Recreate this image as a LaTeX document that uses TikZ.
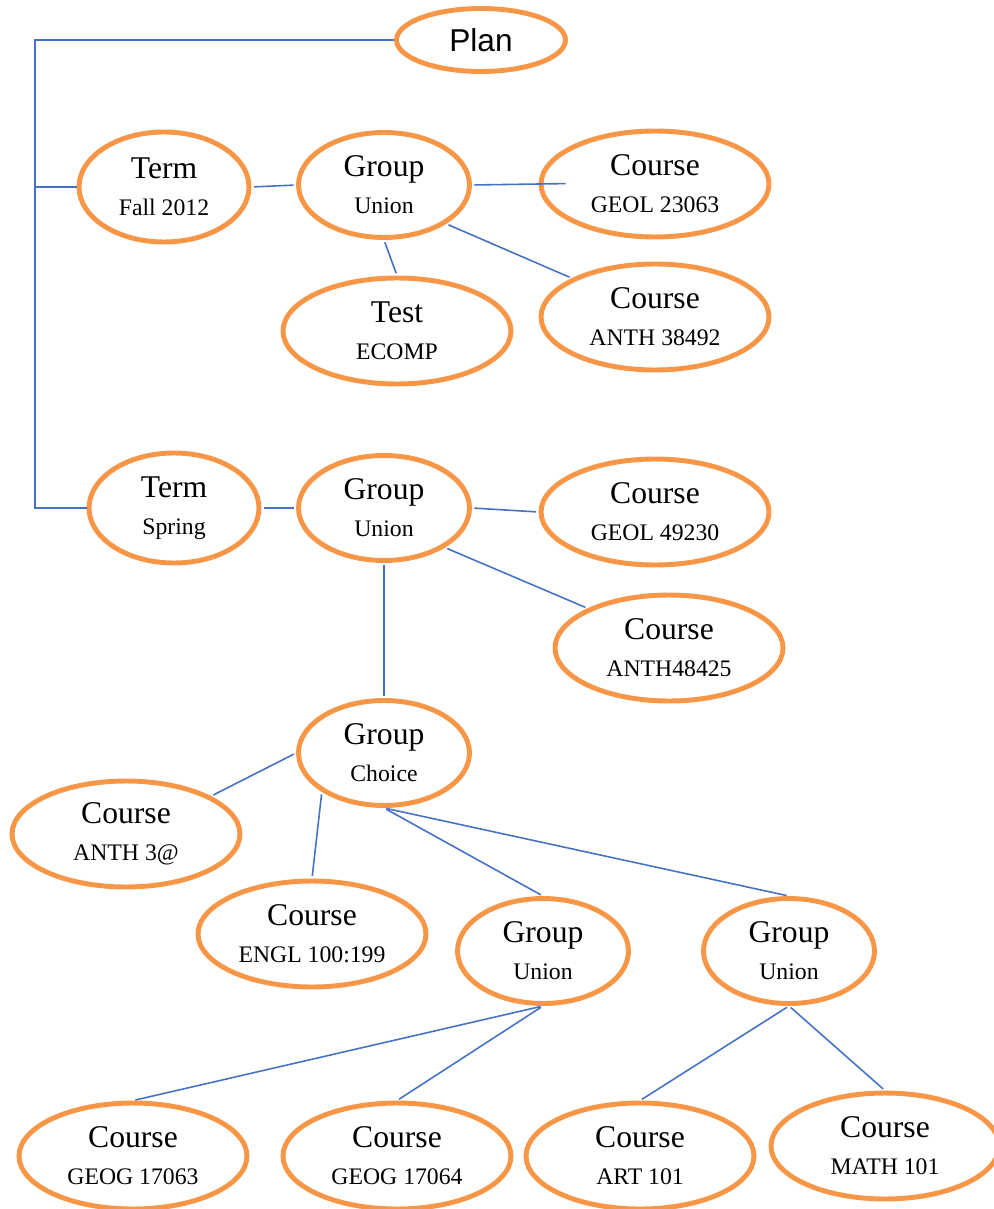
\documentclass[tikz,border=0pt]{standalone}
\usepackage{fontspec}
\setmainfont{Liberation Serif}
\newfontfamily\plansans{Liberation Sans}
\usetikzlibrary{shapes.geometric}
\definecolor{ovalorange}{HTML}{F79646}
\definecolor{linkblue}{HTML}{4472C4}
\newcommand{\subline}{\fontsize{13.5}{15}\selectfont}

\begin{document}
\begin{tikzpicture}[x=0.02cm, y=-0.02cm, every edge/.style={draw=linkblue, line width=0.9pt, shorten <=1.4pt, shorten >=1.4pt}]
				\tikzstyle{oval} = [ellipse, draw=ovalorange, line width=2.8pt, inner sep=0pt, align=center, font=\fontsize{18}{21}\selectfont];
				\tikzstyle{planbox} = [oval, minimum width=3.38cm, minimum height=1.26cm];
				\tikzstyle{termbox} = [oval, minimum width=3.4cm, minimum height=2.2cm];
				\tikzstyle{groupbox} = [oval, minimum width=3.42cm, minimum height=2.1cm];
				\tikzstyle{coursebox} = [oval, minimum width=4.56cm, minimum height=2.12cm];
				\useasboundingbox (0,0) rectangle (993,1209);
				
				\node[planbox] (P) at (481,40) {\plansans Plan};
				
				\node[termbox] (T1) at (164,187) {Term\\{\subline Fall 2012}};
				\node[groupbox] (G1) at (384,185) {Group\\{\subline Union}};
				\node[coursebox] (C1) at (655,184) {Course\\{\subline GEOL 23063}};
				\node[coursebox] (E) at (397,331) {Test\\{\subline ECOMP}};
				\node[coursebox] (C2) at (655,317) {Course\\{\subline ANTH 38492}};
				
				\node[termbox] (T2) at (174,508) {Term\\{\subline Spring}};
				\node[groupbox] (G2) at (384,508) {Group\\{\subline Union}};
				\node[coursebox] (C3) at (655,512) {Course\\{\subline GEOL 49230}};
				\node[coursebox] (C4) at (669,648) {Course\\{\subline ANTH48425}};
				
				\node[groupbox] (G3) at (384,753) {Group\\{\subline Choice}};
				\node[coursebox] (C5) at (126,834) {Course\\{\subline ANTH 3@}};
				\node[coursebox] (C6) at (312,934) {Course\\{\subline ENGL 100:199}};
				\node[groupbox] (G4) at (543,951) {Group\\{\subline Union}};
				\node[groupbox] (G5) at (789,951) {Group\\{\subline Union}};
				
				\node[coursebox] (C7) at (133,1156) {Course\\{\subline GEOG 17063}};
				\node[coursebox] (C8) at (397,1156) {Course\\{\subline GEOG 17064}};
				\node[coursebox] (C9) at (640,1156) {Course\\{\subline ART 101}};
				\node[coursebox] (C10) at (885,1146) {Course\\{\subline MATH 101}};
				
				\coordinate (B) at (35,508);
				\draw[linkblue, line width=1.2pt] (P.west) -| (B) -- (T2.west);
				\draw[linkblue, line width=1.2pt] (B |- T1.west) -- (T1.west);
				
				\path (T1.east) edge (G1.west)
					  (G1.east) edge[shorten >=-0.54cm] (C1.west)
					  (G1.328) edge (C2.155)
					  (G1.south) edge (E.north)
					  (T2.east) edge (G2.west)
					  (G2.east) edge (C3.west)
					  (G2.327) edge (C4.154)
					  (G2.south) edge (G3.north)
					  (G3.west) edge (C5.24)
					  (G3.212) edge (C6.north)
					  (G3.south) edge (G4.north)
					  (G3.south) edge (G5.north)
					  (G4.south) edge (C7.north)
					  (G4.south) edge (C8.north)
					  (G5.south) edge (C9.north)
					  (G5.south) edge (C10.north);
			\end{tikzpicture}
\end{document}
